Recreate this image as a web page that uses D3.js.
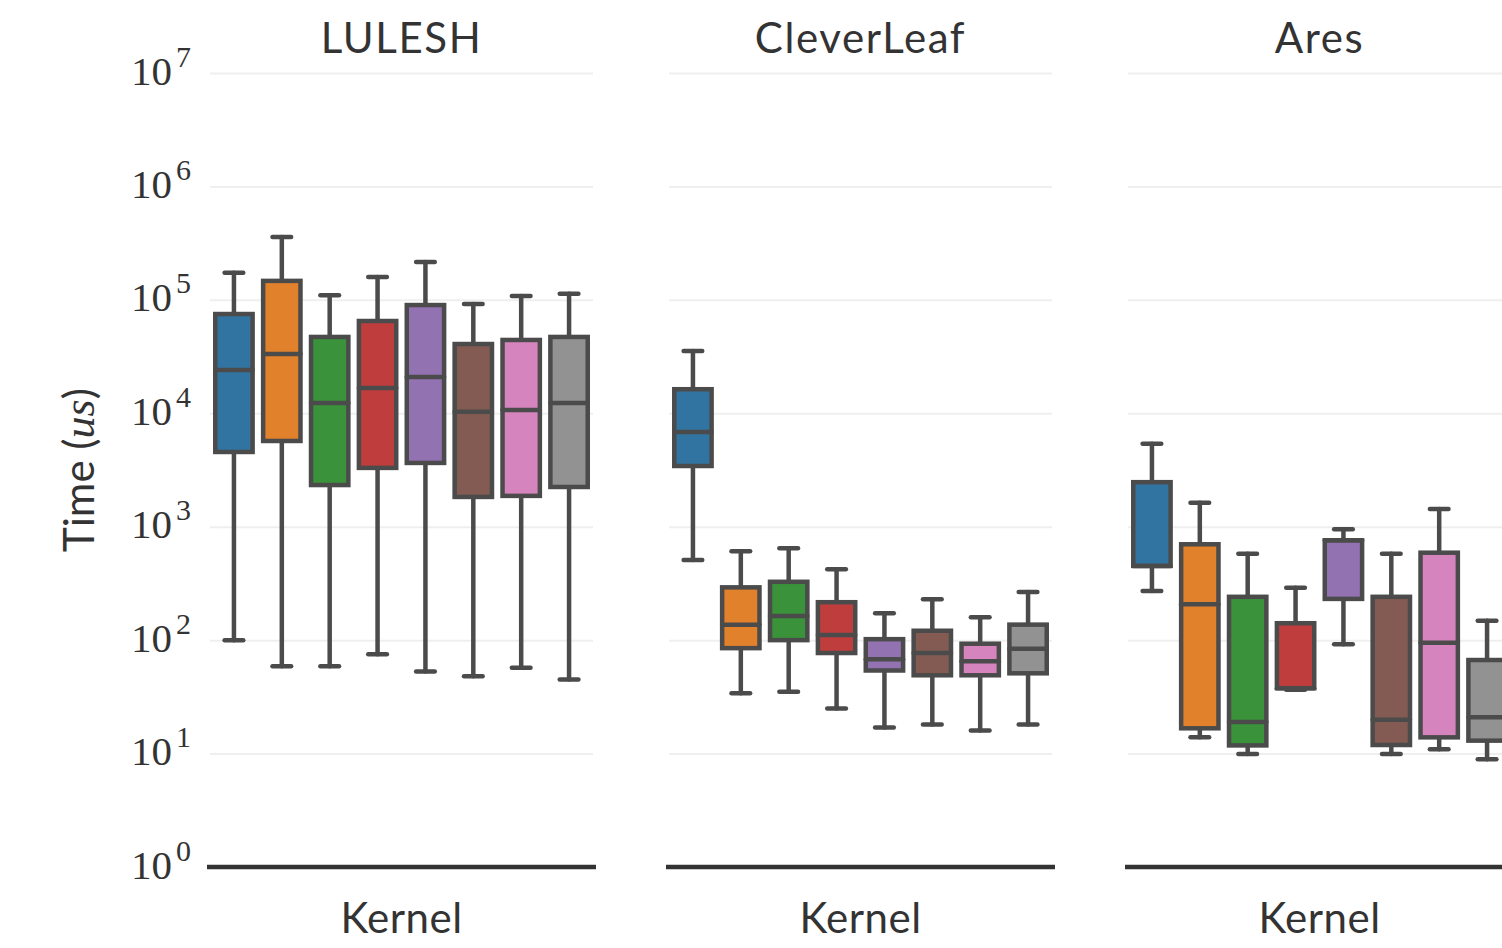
<!DOCTYPE html>
<html>
<head>
<meta charset="utf-8">
<script src="https://cdn.jsdelivr.net/npm/d3@7"></script>
<style>
  body { margin: 0; background: #fff; }
  svg { display: block; }
</style>
</head>
<body>
<svg id="chart" width="1502" height="948"></svg>
<script>
// apps (facets) and kernels (one box each, same colour order in every facet)
const apps = ["LULESH", "CleverLeaf", "Ares"];
const kernels = ["k1", "k2", "k3", "k4", "k5", "k6", "k7", "k8"];
const colors = ["#3274a1", "#e1812c", "#3a923a", "#c03d3e", "#9372b2", "#845b53", "#d684bd", "#929292"];

// box stats per kernel: [lower whisker, q1, median, q3, upper whisker] in us
const luleshStats = [
  [100, 4560, 24100, 75000, 173000],
  [59, 5700, 33300, 147000, 358000],
  [59, 2330, 12300, 47100, 110000],
  [75, 3300, 16700, 65100, 159000],
  [53, 3650, 20900, 90000, 216000],
  [48, 1830, 10300, 40800, 92000],
  [57, 1870, 10700, 44300, 108000],
  [45, 2240, 12300, 47100, 113000]
];
const cleverleafStats = [
  [509, 3430, 6840, 16300, 35400],
  [34, 85, 137, 292, 607],
  [35, 100, 163, 327, 646],
  [25, 77, 111, 216, 422],
  [17, 54, 68, 102, 173],
  [18, 49, 77, 121, 229],
  [16, 49, 65, 93, 159],
  [18, 51, 84, 137, 266]
];
const aresStats = [
  [271, 451, 451, 2470, 5400],
  [13.9, 16.7, 207, 700, 1630],
  [9.9, 11.8, 19, 241, 578],
  [36.5, 37.7, 37.7, 141, 290],
  [92, 231, 759, 759, 948],
  [9.9, 11.9, 19.9, 241, 578],
  [10.9, 13.9, 95, 590, 1430],
  [8.9, 13, 20.9, 66.8, 148]
];
const allStats = [luleshStats, cleverleafStats, aresStats];

const yTicks = [1, 10, 100, 1000, 10000, 100000, 1000000, 10000000];
const yLabel = "Time";
const xLabel = "Kernel";

// layout
const panelLeft = [210, 669, 1128],
    panelW = 383,
    plotTop = 73,
    plotBottom = 867,
    lineColor = "#4b4b4b";

const svg = d3.select("#chart");
svg.append("rect").attr("width", 1502).attr("height", 948).attr("fill", "#fff");

const y = d3.scaleLog().domain([1, 1e7]).range([plotBottom, plotTop]);
const x = d3.scaleBand().domain(kernels).range([0, panelW]).padding(0);
const boxW = x.bandwidth() * 0.78,
    capW = boxW * 0.5;

apps.forEach((app, ai) => {
    const g = svg.append("g").attr("transform", `translate(${panelLeft[ai]},0)`);

    // horizontal grid
    g.append("g")
        .call(d3.axisLeft(y).tickValues(yTicks.slice(1)).tickSize(-panelW).tickFormat(""))
        .call(a => a.select(".domain").remove())
        .call(a => a.selectAll(".tick line").attr("stroke", "#efefef").attr("stroke-width", 2));

    // boxes
    const stats = allStats[ai];
    const box = g.selectAll("g.box").data(kernels).join("g")
        .attr("class", "box")
        .attr("transform", d => `translate(${x(d) + x.bandwidth() / 2},0)`);

    box.each(function (k, i) {
        const [lo, q1, med, q3, hi] = stats[i];
        const b = d3.select(this);
        b.append("line").attr("y1", y(q3)).attr("y2", y(hi));
        b.append("line").attr("y1", y(q1)).attr("y2", y(lo));
        b.append("line").attr("x1", -capW / 2).attr("x2", capW / 2).attr("y1", y(hi)).attr("y2", y(hi));
        b.append("line").attr("x1", -capW / 2).attr("x2", capW / 2).attr("y1", y(lo)).attr("y2", y(lo));
        b.append("rect")
            .attr("x", -boxW / 2).attr("width", boxW)
            .attr("y", y(q3)).attr("height", y(q1) - y(q3))
            .attr("fill", colors[i]);
        b.append("line").attr("x1", -boxW / 2).attr("x2", boxW / 2).attr("y1", y(med)).attr("y2", y(med));
    });
    box.selectAll("line, rect")
        .attr("stroke", lineColor).attr("stroke-width", 4.5);
    box.selectAll("line").attr("stroke-linecap", "round");

    // bottom spine
    g.append("line")
        .attr("x1", -3).attr("x2", panelW + 3)
        .attr("y1", plotBottom).attr("y2", plotBottom)
        .attr("stroke", "#333").attr("stroke-width", 4.5);

    // facet title
    g.append("text")
        .attr("x", panelW / 2).attr("y", 53)
        .attr("text-anchor", "middle")
        .attr("font-family", "Lato, sans-serif").attr("font-size", 42)
        .attr("letter-spacing", 1.6)
        .attr("fill", "#333")
        .text(app);

    // x label
    g.append("text")
        .attr("x", panelW / 2).attr("y", 933)
        .attr("text-anchor", "middle")
        .attr("font-family", "Lato, sans-serif").attr("font-size", 42)
        .attr("letter-spacing", 0.5)
        .attr("fill", "#333")
        .text(xLabel);
});

// y tick labels, 10^n in a serif face
const yAxis = svg.append("g").attr("transform", `translate(${panelLeft[0]},0)`)
    .call(d3.axisLeft(y).tickValues(yTicks).tickSize(0).tickPadding(19).tickFormat(""))
    .call(a => a.select(".domain").remove());
yAxis.selectAll(".tick text")
    .attr("font-family", "'Liberation Serif', serif")
    .attr("font-size", 41)
    .attr("fill", "#333")
    .attr("dy", "0.27em")
    .each(function (d) {
        const t = d3.select(this);
        t.append("tspan").text("10");
        t.append("tspan").attr("font-size", 30).attr("dx", 4).attr("dy", "-0.6em").text(Math.round(Math.log10(d)));
    });

// y axis title
const yt = svg.append("text")
    .attr("transform", "translate(94,470) rotate(-90)")
    .attr("text-anchor", "middle")
    .attr("font-family", "Lato, sans-serif").attr("font-size", 42)
    .attr("fill", "#333");
yt.append("tspan").text(yLabel + " (");
yt.append("tspan").attr("font-family", "'Liberation Serif', serif").attr("font-style", "italic").attr("font-size", 44).text("us");
yt.append("tspan").text(")");
</script>
</body>
</html>
